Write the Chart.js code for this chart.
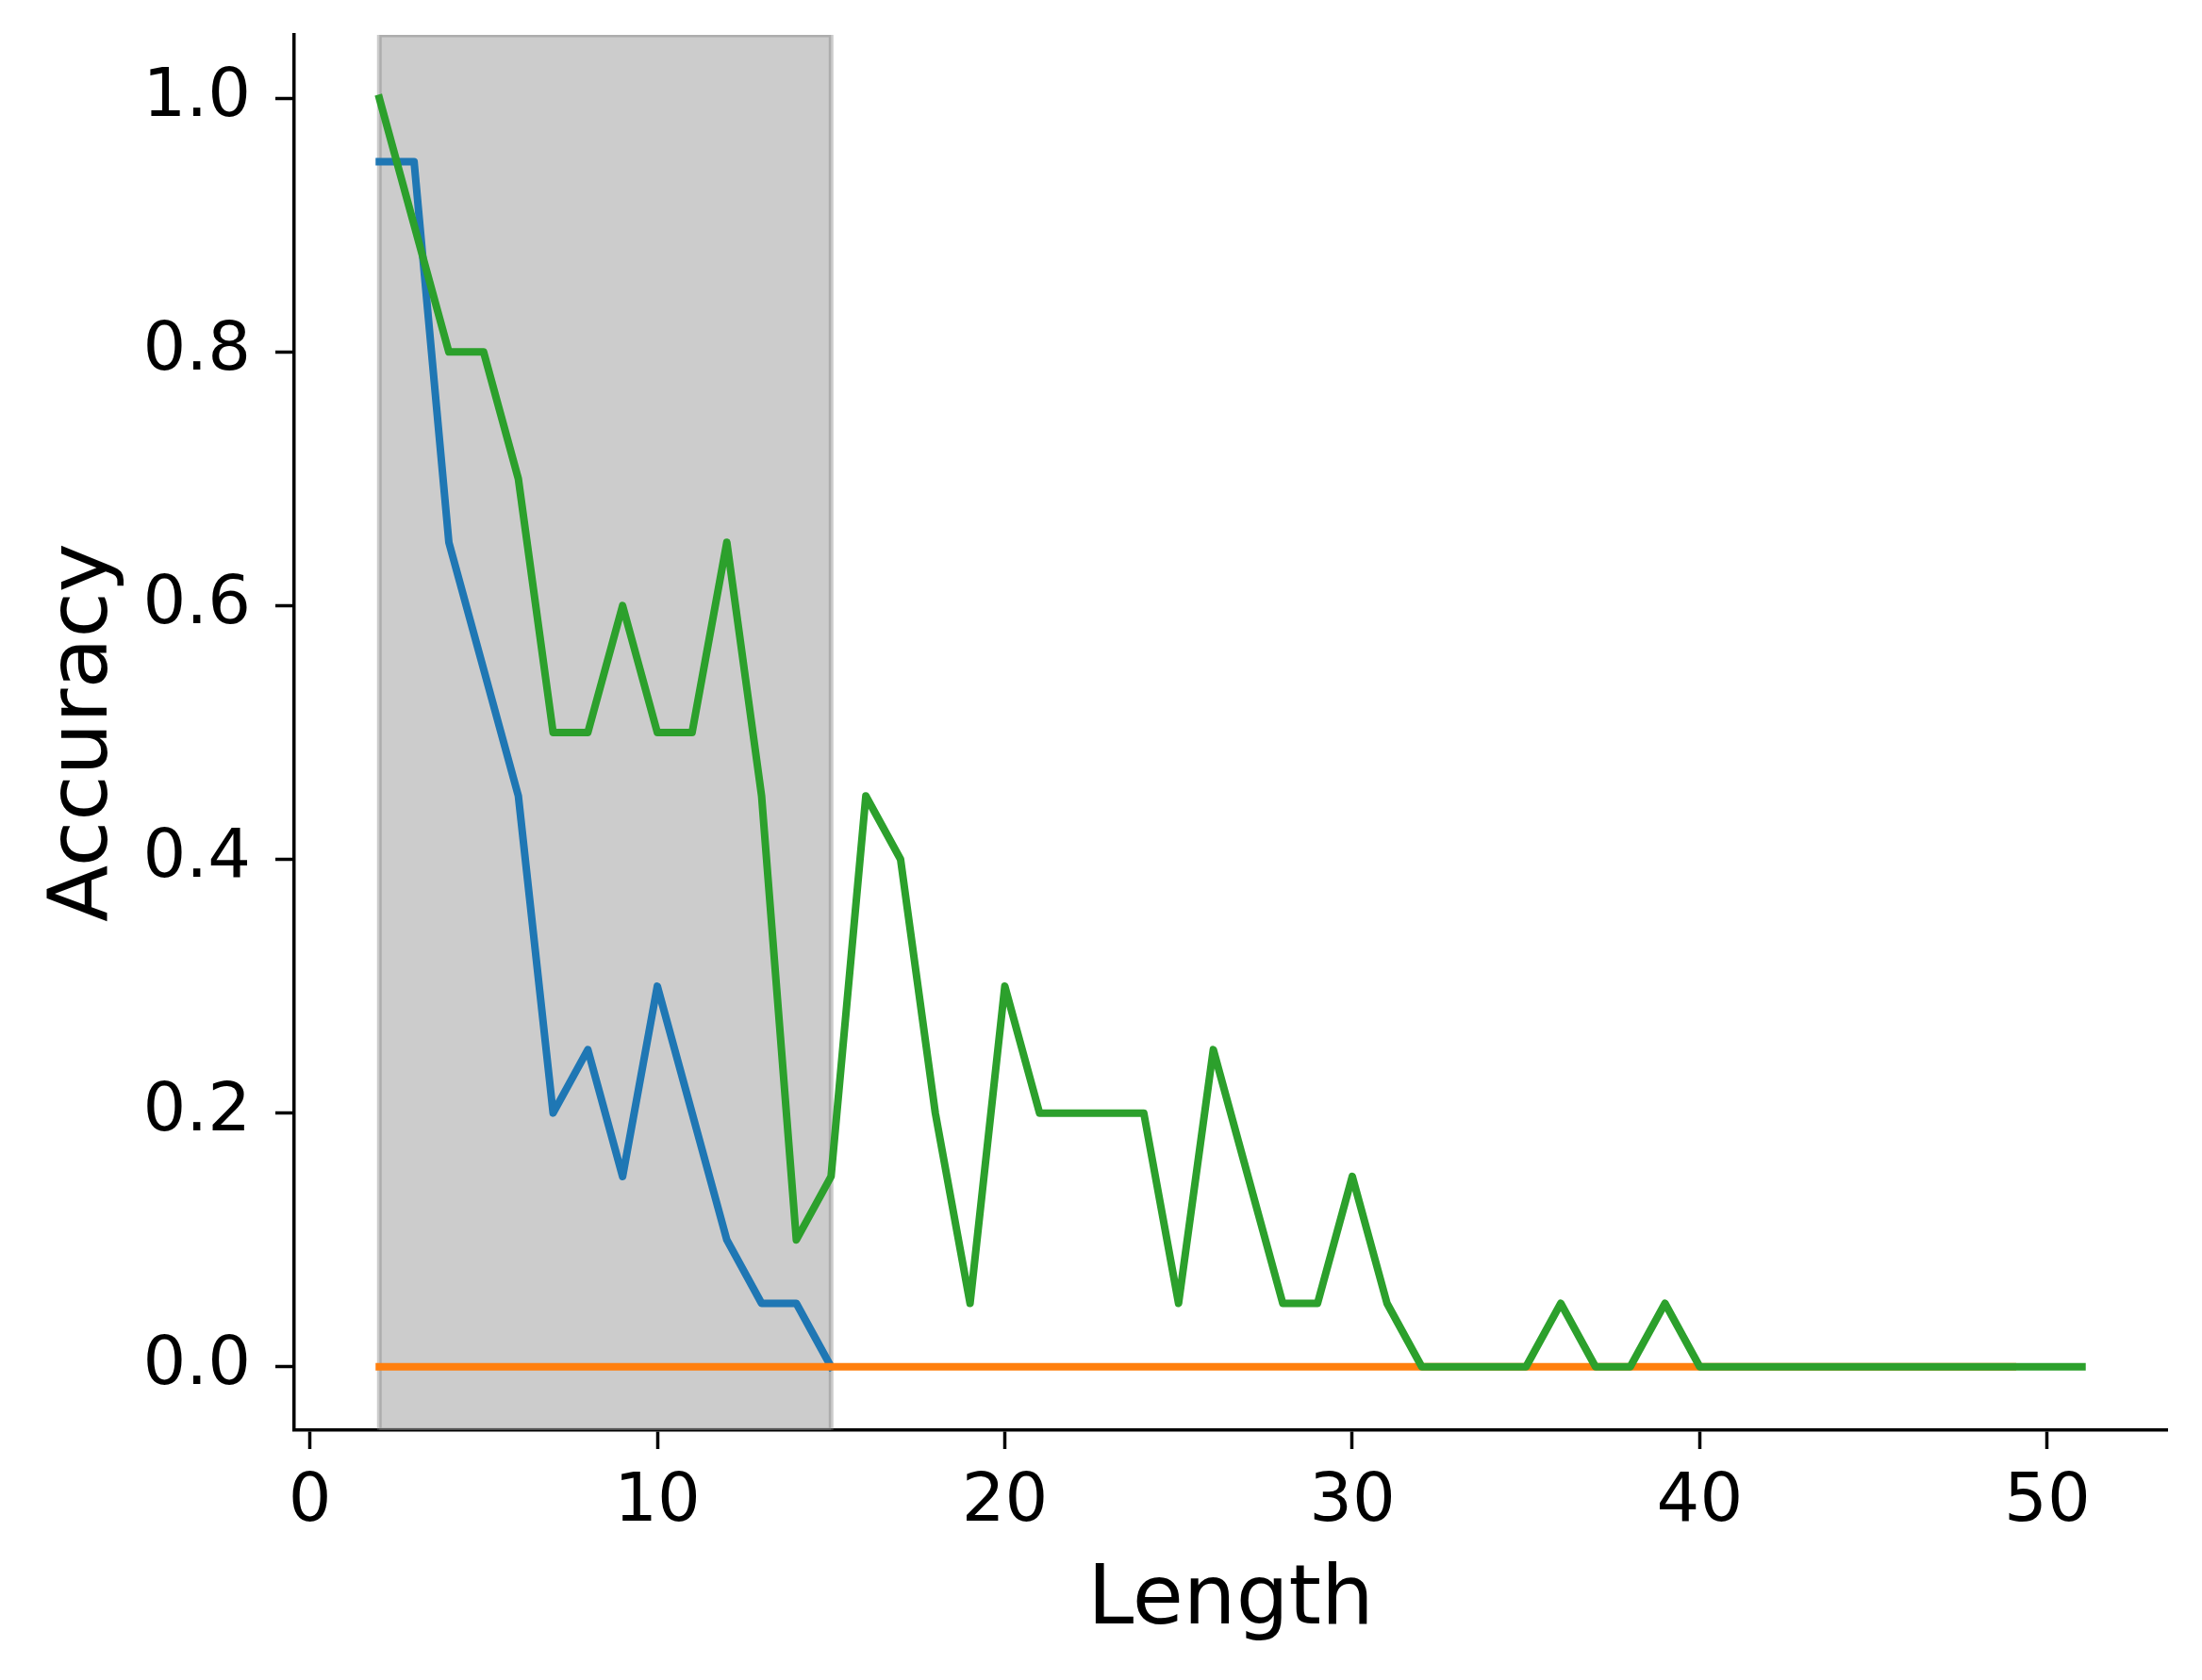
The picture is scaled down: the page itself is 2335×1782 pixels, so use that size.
<!DOCTYPE html>
<html>
<head>
<meta charset="utf-8">
<script src="https://cdn.jsdelivr.net/npm/chart.js@4.4.1/dist/chart.umd.min.js"></script>
<style>
  html, body { margin: 0; padding: 0; background: #fff; }
  #wrap { width: 2335px; height: 1782px; }
</style>
</head>
<body>
<div id="wrap"><canvas id="myChart" width="2335" height="1782"></canvas></div>
<script>
// data
const blueLengths = [2, 3, 4, 5, 6, 7, 8, 9, 10, 11, 12, 13, 14, 15];
const blueAcc = [0.95, 0.95, 0.65, 0.55, 0.45, 0.2, 0.25, 0.15, 0.3, 0.2, 0.1, 0.05, 0.05, 0.0];

const orangeLengths = [2, 3, 4, 5, 6, 7, 8, 9, 10, 11, 12, 13, 14, 15, 16, 17, 18, 19, 20, 21, 22, 23, 24, 25,
  26, 27, 28, 29, 30, 31, 32, 33, 34, 35, 36, 37, 38, 39, 40, 41, 42, 43, 44, 45, 46, 47, 48, 49];
const orangeAcc = [0, 0, 0, 0, 0, 0, 0, 0, 0, 0, 0, 0, 0, 0, 0, 0, 0, 0, 0, 0, 0, 0, 0, 0,
  0, 0, 0, 0, 0, 0, 0, 0, 0, 0, 0, 0, 0, 0, 0, 0, 0, 0, 0, 0, 0, 0, 0, 0];

const greenLengths = [2, 3, 4, 5, 6, 7, 8, 9, 10, 11, 12, 13, 14, 15, 16, 17, 18, 19, 20, 21, 22, 23, 24, 25,
  26, 27, 28, 29, 30, 31, 32, 33, 34, 35, 36, 37, 38, 39, 40, 41, 42, 43, 44, 45, 46, 47, 48, 49, 50, 51];
const greenAcc = [1.0, 0.9, 0.8, 0.8, 0.7, 0.5, 0.5, 0.6, 0.5, 0.5, 0.65, 0.45, 0.1, 0.15, 0.45, 0.4, 0.2, 0.05,
  0.3, 0.2, 0.2, 0.2, 0.2, 0.05, 0.25, 0.15, 0.05, 0.05, 0.15, 0.05, 0, 0, 0, 0, 0.05, 0, 0, 0.05,
  0, 0, 0, 0, 0, 0, 0, 0, 0, 0, 0, 0];

const shadeRange = [2, 15];          // 회색 구간
const xTicks = [0, 10, 20, 30, 40, 50];
const yTicks = [0.0, 0.2, 0.4, 0.6, 0.8, 1.0];

const toPoints = (xs, ys) => xs.map((x, i) => ({ x: x, y: ys[i] }));

// 회색 구간 그리기
const shadePlugin = {
  id: 'shade',
  beforeDatasetsDraw(chart) {
    const { ctx, chartArea, scales } = chart;
    const x0 = scales.x.getPixelForValue(shadeRange[0]);
    const x1 = scales.x.getPixelForValue(shadeRange[1]);
    ctx.save();
    ctx.beginPath();
    ctx.rect(chartArea.left, chartArea.top, chartArea.right - chartArea.left, chartArea.bottom - chartArea.top);
    ctx.clip();
    ctx.fillStyle = 'rgba(128,128,128,0.4)';
    ctx.fillRect(x0, chartArea.top, x1 - x0, chartArea.bottom - chartArea.top);
    ctx.strokeStyle = 'rgba(128,128,128,0.4)';
    ctx.lineWidth = 5;
    ctx.strokeRect(x0, chartArea.top, x1 - x0, chartArea.bottom - chartArea.top);
    ctx.restore();
  }
};

const lineStyle = {
  pointRadius: 0,
  borderWidth: 8,
  borderJoinStyle: 'round',
  borderCapStyle: 'square',
  tension: 0,
  fill: false
};

const ctx = document.getElementById('myChart').getContext('2d');

new Chart(ctx, {
  type: 'line',
  data: {
    datasets: [
      Object.assign({ data: toPoints(blueLengths, blueAcc), borderColor: '#1f77b4', order: 3 }, lineStyle),
      Object.assign({ data: toPoints(orangeLengths, orangeAcc), borderColor: '#ff7f0e', order: 2 }, lineStyle),
      Object.assign({ data: toPoints(greenLengths, greenAcc), borderColor: '#2ca02c', order: 1 }, lineStyle)
    ]
  },
  options: {
    responsive: false,
    animation: false,
    devicePixelRatio: 1,
    layout: { padding: { top: 37, right: 37, left: 0, bottom: 0 } },
    plugins: {
      legend: { display: false },
      tooltip: { enabled: false }
    },
    scales: {
      x: {
        type: 'linear',
        min: -0.45,
        max: 53.45,
        afterBuildTicks: s => { s.ticks = xTicks.map(v => ({ value: v })); },
        afterFit: s => { s.height = 265; },
        grid: {
          display: true,
          drawOnChartArea: false,
          drawTicks: true,
          tickLength: 20,
          tickWidth: 3.5,
          tickColor: '#000'
        },
        border: { display: true, color: '#000', width: 3.5 },
        ticks: {
          color: '#000',
          padding: 14,
          maxRotation: 0,
          autoSkip: false,
          font: { family: 'DejaVu Sans', size: 72 },
          callback: v => String(v)
        },
        title: {
          display: true,
          text: 'Length',
          color: '#000',
          font: { family: 'DejaVu Sans', size: 88 },
          padding: { top: 0, bottom: 30 }
        }
      },
      y: {
        type: 'linear',
        min: -0.05,
        max: 1.05,
        afterBuildTicks: s => { s.ticks = yTicks.map(v => ({ value: v })); },
        afterFit: s => { s.width = 312; },
        grid: {
          display: true,
          drawOnChartArea: false,
          drawTicks: true,
          tickLength: 20,
          tickWidth: 3.5,
          tickColor: '#000'
        },
        border: { display: true, color: '#000', width: 3.5 },
        ticks: {
          color: '#000',
          padding: 26,
          autoSkip: false,
          font: { family: 'DejaVu Sans', size: 72, lineHeight: 0.2 },
          callback: v => v.toFixed(1)
        },
        title: {
          display: true,
          text: 'Accuracy',
          color: '#000',
          font: { family: 'DejaVu Sans', size: 88 },
          padding: { top: 37, bottom: 0 }
        }
      }
    }
  },
  plugins: [shadePlugin]
});
</script>
</body>
</html>
